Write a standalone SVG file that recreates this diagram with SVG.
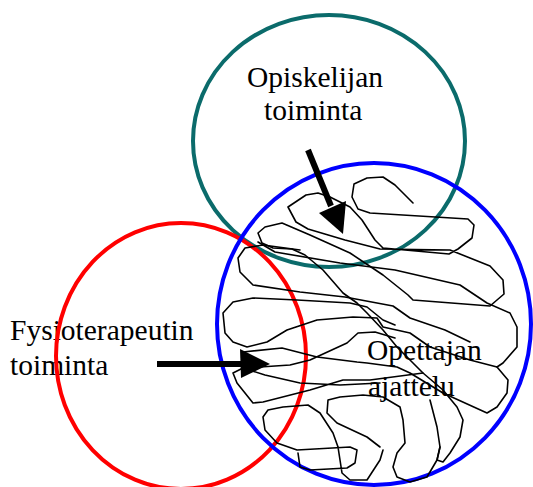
<svg xmlns="http://www.w3.org/2000/svg" width="533" height="487" viewBox="0 0 533 487">
<style>
text{font-family:'Liberation Serif','DejaVu Serif','Times New Roman',Times,serif;font-size:29.5px;fill:#000}
.ring{fill:none;stroke-width:4}
.scr{fill:none;stroke:#000;stroke-width:1.6;stroke-linejoin:round;stroke-linecap:round}
.arr{stroke:#000;stroke-width:6;fill:none}
</style>
<rect width="533" height="487" fill="#fff"/>
<g id="fysio">
<text x="10" y="340">Fysioterapeutin</text>
<text x="10" y="375">toiminta</text>
</g>
<g id="circle-opiskelija"><ellipse class="ring" cx="329" cy="141" rx="136" ry="126" stroke="#0b6b6b"/></g>
<g id="circle-fysio"><ellipse class="ring" cx="181" cy="356" rx="125" ry="133" stroke="#ff0000"/></g>
<g id="circle-opettaja"><ellipse class="ring" cx="374" cy="324" rx="157" ry="161" stroke="#0000ff"/></g>
<g id="scribble">
<path class="scr" d="M413,203 L395,185 L383,177 L367,178 L354,184 L352,197 L358,209 L370,213 L468,219 L474,225 L472,238 L458,249 L449,254 L383,248 L375,240 L362,220 L350,207 L330,197 L318,193 L306,195 L288,207 L296,222 L308,229 L345,240 L380,249 L450,250 L470,258 L490,266 L503,280 L504,294 L490,306 L413,300 L408,295 L383,275 L350,253 L310,235 L282,223 L265,227 L258,233 L262,243 L273,248 L292,249 L305,255 L323,270 L343,293 L357,303 L367,313 L383,330 L397,347 L413,363 L423,373 L443,390 L457,407 L463,420 L460,437 L450,453 L443,462 L437,460 L440,447 L437,427 L430,400"/>
<path class="scr" d="M300,250 L263,245 L245,248 L238,258 L240,272 L253,285 L300,292 L345,297 L393,306 L410,318 L445,330 L470,342"/>
<path class="scr" d="M258,242 L275,252 L340,263 L395,270 L460,285 L487,303 L510,313 L517,327 L517,347 L503,363 L497,367 L470,360 L430,347 L410,333 L383,327 L377,318 L353,317 L317,320 L287,330 L267,342 L247,347 L233,342 L225,333 L223,313 L233,302 L253,298 L297,300 L350,303 L367,307 L383,320 L395,325"/>
<path class="scr" d="M497,367 L508,380 L507,393 L497,407 L487,413 L443,393 L410,373 L397,367 L367,363 L357,362 L317,357 L282,348 L243,352 L243,360 L260,367 L290,365 L310,360 L347,343 L358,333 L375,332 L395,338"/>
<path class="scr" d="M423,373 L370,380 L343,380 L310,390 L263,402 L253,403 L237,383 L233,373 L243,368 L265,375 L300,383 L340,385 L380,383"/>
<path class="scr" d="M383,450 L380,460 L367,480 L350,480 L342,473 L340,460 L338,447 L333,433 L320,413 L308,405 L283,407 L268,410 L263,417 L265,430 L277,443 L297,450 L350,447 L357,450 L355,463 L347,468 L310,470 L300,467 L298,453"/>
<path class="scr" d="M440,447 L437,460 L427,477 L410,482 L397,477 L393,467 L397,453 L405,443 L403,420 L400,407 L383,397 L363,395 L340,397 L328,400 L327,413 L337,423 L367,437 L380,447"/>
</g>
<g id="opettaja">
<text x="367" y="360">Opettajan</text>
<text x="368" y="396">ajattelu</text>
</g>
<g id="opiskelija">
<text x="247" y="87">Opiskelijan</text>
<text x="264" y="120">toiminta</text>
</g>
<g id="connectors">
<line class="arr" x1="308" y1="150" x2="331" y2="206"/>
<polygon points="319,213 346,201 343,234" fill="#000"/>
<line class="arr" x1="157" y1="364" x2="245" y2="364"/>
<polygon points="240,349 270,364 241,378" fill="#000"/>
</g>
</svg>
